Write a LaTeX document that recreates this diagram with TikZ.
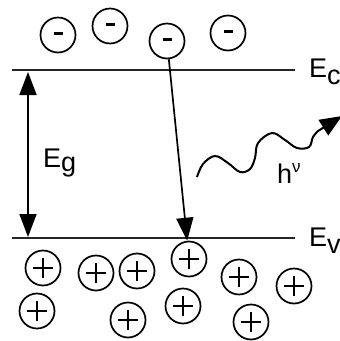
\documentclass[tikz,border=0pt]{standalone}
\usepackage{fontspec}
\setmainfont{Liberation Sans}
\usetikzlibrary{arrows.meta}
\tikzset{
  level/.style={line width=2.8pt, draw=black!85},
  particle/.style={circle, draw, line width=1.7pt, minimum size=35pt, inner sep=0pt},
  electron/.style={particle, path picture={\draw[line width=2.6pt] ([xshift=-4.5pt,yshift=1.5pt]path picture bounding box.center) -- ([xshift=4.5pt,yshift=1.5pt]path picture bounding box.center);}},
  hole/.style={particle, path picture={
      \draw[line width=2.2pt] ([xshift=-10pt]path picture bounding box.center) -- ([xshift=10pt]path picture bounding box.center);
      \draw[line width=2.2pt] ([yshift=-10pt]path picture bounding box.center) -- ([yshift=10pt]path picture bounding box.center);}},
  bigarrow/.style={line width=1.7pt, -{Triangle[width=17pt,length=23pt]}},
  lbl/.style={inner sep=0pt, anchor=base west, font=\fontsize{27}{27}\selectfont},
}
\begin{document}
\begin{tikzpicture}[x=1pt,y=-1pt]
\useasboundingbox[fill=white] (0,0) rectangle (340,341);
% levels
\coordinate (cL) at (12,70);
\coordinate (cR) at (295,70);
\coordinate (vL) at (12,238);
\coordinate (vR) at (295,238);
\draw[level] (cL) -- (cR);
\draw[level] (vL) -- (vR);
% labels
\node[lbl] (Ec) at (309,77) {E\raisebox{-7pt}{c}};
\node[lbl] (Ev) at (309,246) {E\raisebox{-7pt}{v}};
\node[lbl] (Eg) at (43,167) {E\raisebox{-4pt}{g}};
\node[lbl] (hnu) at (277,183) {h\raisebox{11pt}{\fontsize{17}{17}\selectfont ν}};
% electrons
\node[electron] (e1) at (58,35) {};
\node[electron] (e2) at (110,26) {};
\node[electron] (e3) at (167,41) {};
\node[electron] (e4) at (228,33) {};
% holes
\node[hole] (h1) at (43,268) {};
\node[hole] (h2) at (96,273) {};
\node[hole] (h3) at (137,271) {};
\node[hole] (h4) at (189,259) {};
\node[hole] (h5) at (239,277) {};
\node[hole] (h6) at (294,286) {};
\node[hole] (h7) at (37,311) {};
\node[hole] (h8) at (128,320) {};
\node[hole] (h9) at (183,306) {};
\node[hole] (h10) at (251,322) {};
% band gap arrow
\coordinate (egT) at (28,72);
\coordinate (egB) at (28,237);
\draw[line width=1.7pt, {Triangle[width=17pt,length=23pt]}-{Triangle[width=17pt,length=23pt]}] (egT) -- (egB);
% transition
\draw[bigarrow] (e3) -- (h4);
% photon
\coordinate (ph) at (342,116);
\draw[line width=2pt, -{Triangle[width=18pt,length=22pt]}] plot[smooth, tension=0.6] coordinates {(197,177) (203,164) (215,156) (228,163) (240,172) (250,169) (255,158) (258,143) (272,133) (285,140) (297,148) (309,147) (313,137) (318,131)} -- (ph);
\end{tikzpicture}
\end{document}
